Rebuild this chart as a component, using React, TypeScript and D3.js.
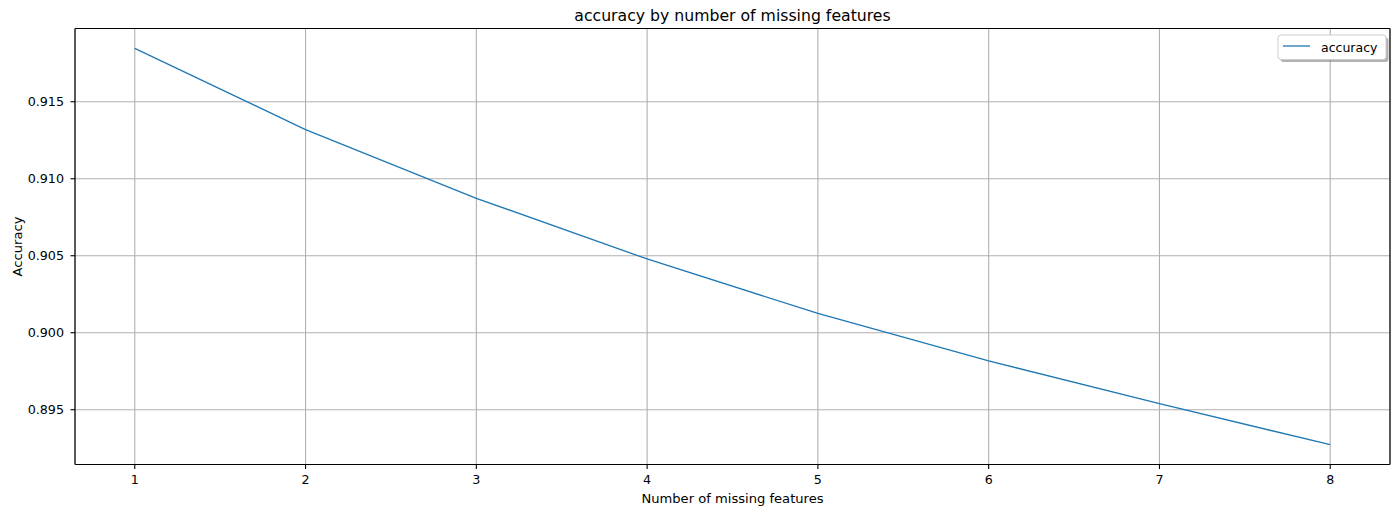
import React, { useEffect, useRef } from "react";
import * as d3 from "d3";

const missingFeatures = [1, 2, 3, 4, 5, 6, 7, 8];
const accuracy = [0.91847, 0.91319, 0.90873, 0.90479, 0.90125, 0.89817, 0.89539, 0.89273];
const xTicks = [1, 2, 3, 4, 5, 6, 7, 8];
const yTicks = [0.895, 0.9, 0.905, 0.91, 0.915];
const titleText = "accuracy by number of missing features";
const xLabel = "Number of missing features";
const yLabel = "Accuracy";
const seriesName = "accuracy";

const W = 1400;
const H = 514;
const FONT = "DejaVu Sans, sans-serif";

export default function App() {
  const ref = useRef<SVGSVGElement | null>(null);

  useEffect(() => {
    document.body.style.margin = "0";
    const svg = d3.select(ref.current);
    svg.selectAll("*").remove();

    const left = 75, right = 1390, top = 28.5, bottom = 464.5;

    const xMin = d3.min(missingFeatures)!, xMax = d3.max(missingFeatures)!;
    const xPad = (xMax - xMin) * 0.05;
    const yMin = d3.min(accuracy)!, yMax = d3.max(accuracy)!;
    const yPad = (yMax - yMin) * 0.05;

    const x = d3.scaleLinear().domain([xMin - xPad, xMax + xPad]).range([left, right]);
    const y = d3.scaleLinear().domain([yMin - yPad, yMax + yPad]).range([bottom, top]);

    svg.append("rect").attr("x", 0).attr("y", 0).attr("width", W).attr("height", H).attr("fill", "#fff");

    // grid
    const grid = svg.append("g");
    grid.selectAll("line.gx").data(xTicks).enter().append("line")
      .attr("x1", d => x(d)).attr("x2", d => x(d))
      .attr("y1", top).attr("y2", bottom)
      .attr("stroke", "#b0b0b0").attr("stroke-width", 1.1);
    grid.selectAll("line.gy").data(yTicks).enter().append("line")
      .attr("x1", left).attr("x2", right)
      .attr("y1", d => y(d)).attr("y2", d => y(d))
      .attr("stroke", "#b0b0b0").attr("stroke-width", 1.1);

    // line
    const line = d3.line<number>()
      .x((_, i) => x(missingFeatures[i]))
      .y(d => y(d));
    svg.append("path").datum(accuracy)
      .attr("d", line)
      .attr("fill", "none")
      .attr("stroke", "#1f77b4")
      .attr("stroke-width", 1.3);

    // spines
    svg.append("line").attr("x1", left).attr("x2", right).attr("y1", top).attr("y2", top).attr("stroke", "#000").attr("stroke-width", 1.1);
    svg.append("line").attr("x1", left).attr("x2", right).attr("y1", bottom).attr("y2", bottom).attr("stroke", "#000").attr("stroke-width", 1.1);
    svg.append("line").attr("x1", left).attr("x2", left).attr("y1", top).attr("y2", bottom).attr("stroke", "#222").attr("stroke-width", 1.5);
    svg.append("line").attr("x1", right).attr("x2", right).attr("y1", top).attr("y2", bottom).attr("stroke", "#222").attr("stroke-width", 1.5);

    // x ticks
    const xt = svg.append("g");
    xt.selectAll("line").data(xTicks).enter().append("line")
      .attr("x1", d => x(d)).attr("x2", d => x(d))
      .attr("y1", bottom).attr("y2", bottom + 4.5)
      .attr("stroke", "#000").attr("stroke-width", 1.1);
    xt.selectAll("text").data(xTicks).enter().append("text")
      .attr("x", d => x(d)).attr("y", 484.3)
      .attr("text-anchor", "middle")
      .attr("font-family", FONT).attr("font-size", 12.7).attr("fill", "#000")
      .text(d => String(d));

    // y ticks
    const yt = svg.append("g");
    yt.selectAll("line").data(yTicks).enter().append("line")
      .attr("x1", left - 4.5).attr("x2", left)
      .attr("y1", d => y(d)).attr("y2", d => y(d))
      .attr("stroke", "#000").attr("stroke-width", 1.1);
    yt.selectAll("text").data(yTicks).enter().append("text")
      .attr("x", left - 11).attr("y", d => y(d))
      .attr("dy", "0.36em")
      .attr("text-anchor", "end")
      .attr("font-family", FONT).attr("font-size", 12.7).attr("fill", "#000")
      .text(d => d3.format(".3f")(d));

    // labels
    svg.append("text")
      .attr("x", (left + right) / 2).attr("y", 503.3)
      .attr("text-anchor", "middle")
      .attr("font-family", FONT).attr("font-size", 13.1).attr("fill", "#000")
      .text(xLabel);
    svg.append("text")
      .attr("transform", `translate(22,${(top + bottom) / 2}) rotate(-90)`)
      .attr("text-anchor", "middle")
      .attr("font-family", FONT).attr("font-size", 13.1).attr("fill", "#000")
      .text(yLabel);
    svg.append("text")
      .attr("x", (left + right) / 2).attr("y", 20.7)
      .attr("text-anchor", "middle")
      .attr("font-family", FONT).attr("font-size", 15.7).attr("fill", "#000")
      .text(titleText);

    // legend
    const lx = 1278, ly = 35, lw = 108, lh = 24.5;
    const lg = svg.append("g");
    lg.append("rect").attr("x", lx + 2.5).attr("y", ly + 2.5).attr("width", lw).attr("height", lh)
      .attr("rx", 3).attr("fill", "#7f7f7f").attr("opacity", 0.6);
    lg.append("rect").attr("x", lx).attr("y", ly).attr("width", lw).attr("height", lh)
      .attr("rx", 3).attr("fill", "#fff").attr("stroke", "#cccccc").attr("stroke-width", 1);
    lg.append("line").attr("x1", lx + 5).attr("x2", lx + 32).attr("y1", ly + 11).attr("y2", ly + 11)
      .attr("stroke", "#1f77b4").attr("stroke-width", 1.3);
    lg.append("text").attr("x", lx + 43).attr("y", ly + 16.5)
      .attr("font-family", FONT).attr("font-size", 12.5).attr("fill", "#000")
      .text(seriesName);
  }, []);

  return <svg ref={ref} width={W} height={H} style={{ display: "block" }} />;
}
